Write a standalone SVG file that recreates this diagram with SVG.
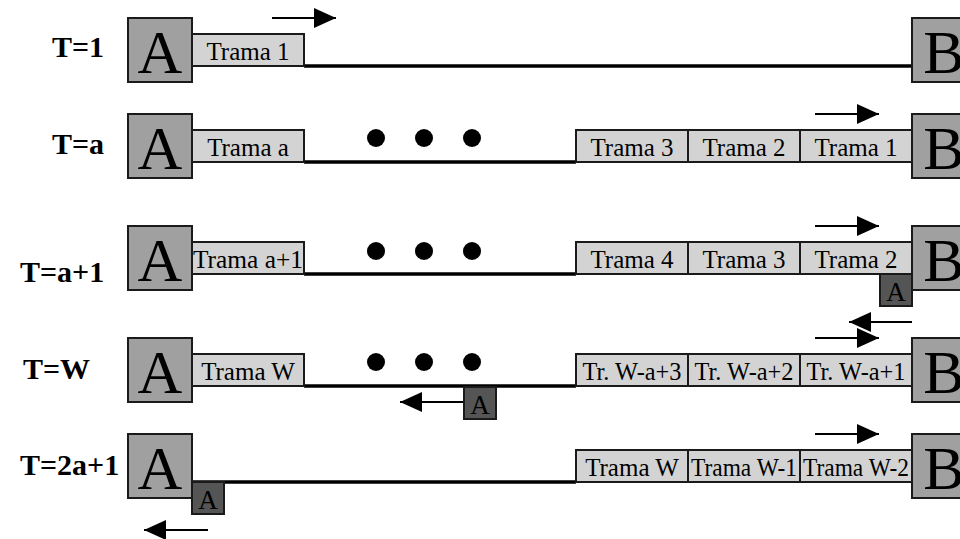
<svg xmlns="http://www.w3.org/2000/svg" width="960" height="539" viewBox="0 0 960 539">
<style>
.bg{fill:#ffffff}
.st{fill:#a0a0a0;stroke:#1a1a1a;stroke-width:2}
.fr{fill:#d3d3d3;stroke:#1a1a1a;stroke-width:2}
.ack{fill:#555555;stroke:#1a1a1a;stroke-width:2}
.link{stroke:#000;stroke-width:3.5;fill:none}
.arr{stroke:#000;stroke-width:2;fill:none}
.big{font-family:"Liberation Serif","Times New Roman",serif;font-size:62px;fill:#000;text-anchor:middle}
.ft{font-family:"Liberation Serif","Times New Roman",serif;font-size:25px;fill:#000;text-anchor:middle}
.sa{font-family:"Liberation Serif","Times New Roman",serif;font-size:27px;fill:#000;text-anchor:middle}
.lbl{font-family:"Liberation Serif","Times New Roman",serif;font-size:30px;font-weight:bold;fill:#000}
.dot{fill:#000}
</style>
<defs>
<marker id="ah" markerUnits="userSpaceOnUse" markerWidth="22" markerHeight="20" refX="22" refY="10" orient="auto">
<path d="M0,0 L22,10 L0,20 Z" fill="#000"/>
</marker>
</defs>
<rect class="bg" x="0" y="0" width="960" height="539"/>

<g id="connectors">
<line class="link" x1="304" y1="66" x2="912" y2="66"/>
<line class="link" x1="304" y1="162" x2="576" y2="162"/>
<line class="link" x1="304" y1="274" x2="576" y2="274"/>
<line class="link" x1="304" y1="386" x2="576" y2="386"/>
<line class="link" x1="192" y1="482" x2="576" y2="482"/>
<line class="arr" x1="272" y1="18" x2="336" y2="18" marker-end="url(#ah)"/>
<line class="arr" x1="815" y1="114" x2="879" y2="114" marker-end="url(#ah)"/>
<line class="arr" x1="815" y1="226" x2="879" y2="226" marker-end="url(#ah)"/>
<line class="arr" x1="912" y1="322" x2="849" y2="322" marker-end="url(#ah)"/>
<line class="arr" x1="815" y1="338" x2="879" y2="338" marker-end="url(#ah)"/>
<line class="arr" x1="463" y1="402" x2="400" y2="402" marker-end="url(#ah)"/>
<line class="arr" x1="815" y1="434" x2="879" y2="434" marker-end="url(#ah)"/>
<line class="arr" x1="208" y1="530" x2="144" y2="530" marker-end="url(#ah)"/>
</g>

<g id="labels">
<text class="lbl" x="52" y="57">T=1</text>
<text class="lbl" x="52" y="154">T=a</text>
<text class="lbl" x="20" y="282">T=a+1</text>
<text class="lbl" x="23" y="379">T=W</text>
<text class="lbl" x="20" y="475">T=2a+1</text>
</g>

<g id="row1">
<g id="A1"><rect class="st" x="128" y="18" width="64" height="64"/><text class="big" x="160" y="73">A</text></g>
<g id="B1"><rect class="st" x="912" y="18" width="64" height="64"/><text class="big" x="944" y="73">B</text></g>
<g id="r1f1"><rect class="fr" x="192" y="34" width="112" height="32"/><text class="ft" x="248" y="60">Trama 1</text></g>
</g>

<g id="row2">
<g id="A2"><rect class="st" x="128" y="114" width="64" height="64"/><text class="big" x="160" y="169">A</text></g>
<g id="B2"><rect class="st" x="912" y="114" width="64" height="64"/><text class="big" x="944" y="169">B</text></g>
<g id="r2fa"><rect class="fr" x="192" y="130" width="112" height="32"/><text class="ft" x="248" y="156">Trama a</text></g>
<g id="r2dots"><circle class="dot" cx="376" cy="138" r="9"/><circle class="dot" cx="424" cy="138" r="9"/><circle class="dot" cx="472" cy="138" r="9"/></g>
<g id="r2f3"><rect class="fr" x="576" y="130" width="112" height="32"/><text class="ft" x="632" y="156">Trama 3</text></g>
<g id="r2f2"><rect class="fr" x="688" y="130" width="112" height="32"/><text class="ft" x="744" y="156">Trama 2</text></g>
<g id="r2f1"><rect class="fr" x="800" y="130" width="112" height="32"/><text class="ft" x="856" y="156">Trama 1</text></g>
</g>

<g id="row3">
<g id="A3"><rect class="st" x="128" y="226" width="64" height="64"/><text class="big" x="160" y="281">A</text></g>
<g id="B3"><rect class="st" x="912" y="226" width="64" height="64"/><text class="big" x="944" y="281">B</text></g>
<g id="r3fa"><rect class="fr" x="192" y="242" width="112" height="32"/><text class="ft" x="248" y="268" textLength="110" lengthAdjust="spacingAndGlyphs">Trama a+1</text></g>
<g id="r3dots"><circle class="dot" cx="376" cy="251" r="9"/><circle class="dot" cx="424" cy="251" r="9"/><circle class="dot" cx="472" cy="251" r="9"/></g>
<g id="r3f4"><rect class="fr" x="576" y="242" width="112" height="32"/><text class="ft" x="632" y="268">Trama 4</text></g>
<g id="r3f3"><rect class="fr" x="688" y="242" width="112" height="32"/><text class="ft" x="744" y="268">Trama 3</text></g>
<g id="r3f2"><rect class="fr" x="800" y="242" width="112" height="32"/><text class="ft" x="856" y="268">Trama 2</text></g>
<g id="r3ack"><rect class="ack" x="880" y="274" width="32" height="32"/><text class="sa" x="896" y="301">A</text></g>
</g>

<g id="row4">
<g id="A4"><rect class="st" x="128" y="338" width="64" height="64"/><text class="big" x="160" y="393">A</text></g>
<g id="B4"><rect class="st" x="912" y="338" width="64" height="64"/><text class="big" x="944" y="393">B</text></g>
<g id="r4fW"><rect class="fr" x="192" y="354" width="112" height="32"/><text class="ft" x="248" y="380" font-size="23.5">Trama W</text></g>
<g id="r4dots"><circle class="dot" cx="376" cy="362" r="9"/><circle class="dot" cx="424" cy="362" r="9"/><circle class="dot" cx="472" cy="362" r="9"/></g>
<g id="r4f3"><rect class="fr" x="576" y="354" width="112" height="32"/><text class="ft" x="632" y="380" textLength="99" lengthAdjust="spacingAndGlyphs">Tr. W-a+3</text></g>
<g id="r4f2"><rect class="fr" x="688" y="354" width="112" height="32"/><text class="ft" x="744" y="380" textLength="99" lengthAdjust="spacingAndGlyphs">Tr. W-a+2</text></g>
<g id="r4f1"><rect class="fr" x="800" y="354" width="112" height="32"/><text class="ft" x="856" y="380" textLength="99" lengthAdjust="spacingAndGlyphs">Tr. W-a+1</text></g>
<g id="r4ack"><rect class="ack" x="464" y="387" width="32" height="32"/><text class="sa" x="480" y="414">A</text></g>
</g>

<g id="row5">
<g id="A5"><rect class="st" x="128" y="434" width="64" height="64"/><text class="big" x="160" y="489">A</text></g>
<g id="B5"><rect class="st" x="912" y="434" width="64" height="64"/><text class="big" x="944" y="489">B</text></g>
<g id="r5ack"><rect class="ack" x="192" y="482" width="32" height="32"/><text class="sa" x="208" y="509">A</text></g>
<g id="r5fW"><rect class="fr" x="576" y="450" width="112" height="32"/><text class="ft" x="632" y="476" font-size="23.5">Trama W</text></g>
<g id="r5f1"><rect class="fr" x="688" y="450" width="112" height="32"/><text class="ft" x="744" y="476" textLength="106" lengthAdjust="spacingAndGlyphs">Trama W-1</text></g>
<g id="r5f2"><rect class="fr" x="800" y="450" width="112" height="32"/><text class="ft" x="856" y="476" textLength="106" lengthAdjust="spacingAndGlyphs">Trama W-2</text></g>
</g>
</svg>
